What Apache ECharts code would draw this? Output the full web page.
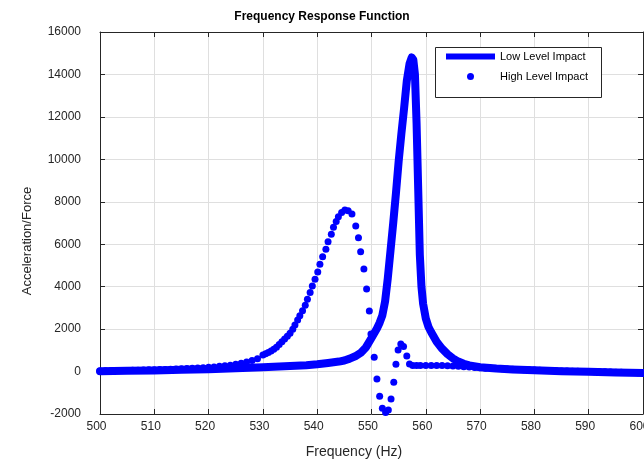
<!DOCTYPE html>
<html>
<head>
<meta charset="utf-8">
<script src="https://cdn.jsdelivr.net/npm/echarts@6/dist/echarts.min.js"></script>
<style>
html,body{margin:0;padding:0;background:#fff;}
#chart{width:644px;height:460px;}
</style>
</head>
<body>
<div id="chart"></div>
<script>
// Low Level Impact (thick line)
var lowFreq = [500,505,510,515,520,525,530,535,538,540,542,544,545,546,547,548,549,550,550.5,551,551.5,552,552.5,553,553.5,554,554.5,555,555.5,556,556.5,557,557.4,557.7,558,558.3,558.6,558.9,559.2,559.5,560,560.5,561,562,563,564,565,566,567,568,570,573,576,580,585,590,595,600];
var lowVal  = [20,35,55,80,110,150,200,260,300,340,400,470,520,610,720,880,1150,1580,1800,2030,2300,2650,3300,4400,5700,7000,8400,9900,11200,12400,13700,14500,14800,14700,14000,11700,8600,5500,4000,3200,2500,2100,1850,1400,1080,820,620,470,370,290,200,140,100,60,20,-10,-40,-70];

// High Level Impact (dots)
var highFreq = [500,501,502,503,504,505,506,507,508,509,510,511,512,513,514,515,516,517,518,519,520,521,522,523,524,525,526,527,528,529,530,530.5,531,531.5,532,532.5,533,533.5,534,534.5,
535.0,535.5,535.9,536.4,536.8,537.3,537.8,538.2,538.7,539.1,539.6,540.1,540.5,541.0,541.6,542.0,542.6,543.0,543.5,543.9,544.5,545.1,545.7,546.4,547.1,547.6,548.0,548.6,549.1,549.6,549.9,550.5,551.0,551.5,552.0,552.6,553.1,553.6,554.1,554.5,554.9,555.4,555.9,556.5,557.0,557.6,558.3,
559,560,561,562,563,564,565,566,567,568,569,570,571,572,573,574,575,576,577,578,579,580,581,582,583,584,585,586,587,588,589,590,591,592,593,594,595,596,597,598,599,600];
var highVal = [30,35,40,45,50,55,60,65,70,80,85,95,100,110,120,130,140,150,165,180,200,220,245,270,300,340,390,450,520,600,780,840,900,970,1050,1150,1270,1400,1530,1660,
1805,1990,2195,2430,2635,2870,3125,3405,3720,4035,4350,4695,5055,5415,5760,6120,6470,6800,7065,7300,7490,7615,7580,7425,6860,6310,5650,4835,3890,2855,1770,670,-350,-1165,-1730,-1935,-1810,-1290,-505,345,1020,1300,1175,735,360,280,280,
285,290,290,285,280,270,260,245,230,210,190,175,160,150,140,130,120,110,100,90,80,70,60,55,45,40,30,25,15,10,5,0,-5,-10,-15,-20,-30,-35,-40,-50,-55,-60];

var xTicks = {min:500, max:600, step:10};
var yTicks = {min:-2000, max:16000, step:2000};

function pairs(xs, ys){ var out=[]; for(var i=0;i<xs.length;i++){ out.push([xs[i], ys[i]]); } return out; }

var FONT = '"Liberation Sans", Arial, Helvetica, sans-serif';
var AX = '#262626';
var GRID = '#dfdfdf';

var chart = echarts.init(document.getElementById('chart'), null, {renderer:'canvas'});
chart.setOption({
  backgroundColor:'#ffffff',
  animation:false,
  title:{
    text:'Frequency Response Function',
    left:'center', top:6,
    textStyle:{fontFamily:FONT, fontSize:12, fontWeight:'bold', color:'#000'}
  },
  grid:{left:100, right:1, top:32, bottom:46, containLabel:false, outerBoundsMode:'none'},
  xAxis:[{
    type:'value', min:xTicks.min, max:xTicks.max, interval:xTicks.step,
    name:'Frequency (Hz)', nameLocation:'middle', nameGap:31,
    nameTextStyle:{fontFamily:FONT, fontSize:14, color:AX, padding:[0,35,0,0]},
    axisLine:{show:true, onZero:false, lineStyle:{color:AX, width:1}},
    axisTick:{show:true, inside:true, length:5, lineStyle:{color:AX}},
    axisLabel:{fontFamily:FONT, fontSize:12, color:AX, margin:7, padding:[0,7,0,0], formatter:function(v){return String(v);}},
    splitLine:{show:true, lineStyle:{color:GRID, width:1}}
  },{
    type:'value', position:'top', min:xTicks.min, max:xTicks.max, interval:xTicks.step,
    axisLine:{show:true, onZero:false, lineStyle:{color:AX, width:1}},
    axisTick:{show:true, inside:true, length:5, lineStyle:{color:AX}},
    axisLabel:{show:false}, splitLine:{show:false}
  }],
  yAxis:[{
    type:'value', min:yTicks.min, max:yTicks.max, interval:yTicks.step,
    name:'Acceleration/Force', nameLocation:'middle', nameGap:66,
    nameTextStyle:{fontFamily:FONT, fontSize:13, color:AX, padding:[0,36,0,0]},
    axisLine:{show:true, onZero:false, lineStyle:{color:AX, width:1}},
    axisTick:{show:true, inside:true, length:5, lineStyle:{color:AX}},
    axisLabel:{fontFamily:FONT, fontSize:12, color:AX, margin:19, padding:[0,0,3,0], formatter:function(v){return String(v);}},
    splitLine:{show:true, lineStyle:{color:GRID, width:1}}
  },{
    type:'value', position:'right', min:yTicks.min, max:yTicks.max, interval:yTicks.step,
    axisLine:{show:true, onZero:false, lineStyle:{color:AX, width:1}},
    axisTick:{show:true, inside:true, length:5, lineStyle:{color:AX}},
    axisLabel:{show:false}, splitLine:{show:false}
  }],
  graphic:[{
    type:'rect', left:435, top:47, z:3,
    shape:{width:166, height:50},
    style:{fill:'#ffffff', stroke:AX, lineWidth:1}
  }],
  legend:[{
    data:[{name:'Low Level Impact', icon:'rect'}],
    left:446, top:51, padding:0, itemWidth:49, itemHeight:6, z:5,
    textStyle:{fontFamily:FONT, fontSize:11, color:'#000'}
  },{
    data:[{name:'High Level Impact', icon:'circle'}],
    left:467, top:71, padding:0, itemWidth:7, itemHeight:7, z:5,
    textStyle:{fontFamily:FONT, fontSize:11, color:'#000', padding:[0,0,0,21]}
  }],
  series:[{
    name:'Low Level Impact', type:'line', xAxisIndex:0, yAxisIndex:0,
    data:pairs(lowFreq, lowVal), showSymbol:false, symbol:'none', clip:false,
    lineStyle:{color:'#0000ff', width:8, cap:'round', join:'round'},
    itemStyle:{color:'#0000ff'}, z:2
  },{
    name:'High Level Impact', type:'scatter', xAxisIndex:0, yAxisIndex:0,
    data:pairs(highFreq, highVal), symbol:'circle', symbolSize:7, clip:false,
    itemStyle:{color:'#0000ff', opacity:1}, z:3
  }]
});
</script>
</body>
</html>
